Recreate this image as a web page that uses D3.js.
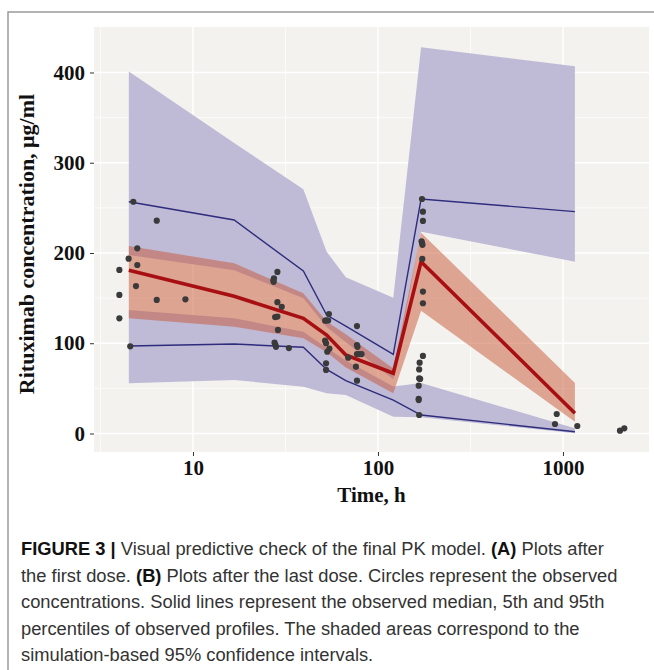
<!DOCTYPE html>
<html>
<head>
<meta charset="utf-8">
<script src="https://cdn.jsdelivr.net/npm/d3@7"></script>
<style>
  html, body { margin: 0; padding: 0; background: #ffffff; }
  svg { display: block; }
</style>
</head>
<body>
<svg id="chart" width="654" height="670"></svg>
<script>
// ---------- data ----------
const times      = [4.5, 16.7, 39.5, 52.8, 67, 121, 171, 1160];
const obsMedian  = [181, 152, 127.6, 109, 87, 66.7, 190.4, 22.4];
const obsP95     = [256.8, 236.6, 180, 131.3, 119, 87.7, 259.8, 245.8];
const obsP05     = [97, 99.2, 95.5, 71, 58.5, 37, 20.5, 2];
const medCIhi    = [207.7, 188.6, 155.3, 124, 110, 72, 222.5, 56];
const medCIlo    = [127.6, 118.3, 105.5, 90, 73, 44.5, 136, 13];
const p95CIhi    = [401, 322, 270.5, 201.5, 173, 150.5, 428, 407];
const p95CIlo    = [197.8, 181, 149.8, 118, 101, 60, 223.6, 190.4];
const p05CIhi    = [136.8, 127.6, 112.8, 95, 81, 52, 56, 5.7];
const p05CIlo    = [55.6, 59.3, 51.9, 44.5, 42.7, 18.6, 18, 0.2];

const obsTime = [4.0, 4.0, 4.0, 4.49, 4.58, 4.76, 5.0, 5.0, 4.92, 6.37, 6.37, 9.1,
  28.6, 27.4, 27.2, 27.3, 28.6, 30.2, 27.8, 28.6, 28.8, 27.6, 27.9, 28.1, 33.0,
  54.3, 51.8, 52.8, 53.8, 51.8, 52.4, 54.6, 53.2, 52.4, 52.4,
  77, 77, 77.5, 77, 79, 81.5, 69, 76, 77,
  173, 175, 175, 172, 173, 174, 173.6, 175, 175,
  175, 168, 167, 167, 169, 166, 166, 166, 167,
  905, 925, 1195, 2033, 2145];
const obsConc = [181.2, 153.5, 127.6, 193.7, 96.6, 256.8, 205.2, 186.7, 163.4, 235.8, 148, 148.7,
  179, 172, 169.6, 168, 145.5, 140.3, 129, 129.5, 114.8, 100.6, 98, 96, 94.7,
  132.4, 125, 125.5, 125.2, 102.8, 100, 94, 90.6, 77.8, 70.4,
  119, 98, 96, 88, 88, 88, 84, 74, 58.5,
  259.8, 245.8, 235.5, 213, 211, 209, 193.4, 157.2, 144.3,
  86, 78.5, 71, 61, 60.5, 53, 38.5, 37, 20.5,
  10.5, 21.6, 8.3, 3.1, 5.7];

const xTicks = [10, 100, 1000];
const xMinor = [Math.pow(10, 0.5), Math.pow(10, 1.5), Math.pow(10, 2.5)];
const yTicks = [0, 100, 200, 300, 400];
const yMinor = [50, 150, 250, 350];

const captionLines = [
  [["FIGURE 3 | ", true], ["Visual predictive check of the final PK model. ", false], ["(A)", true], [" Plots after", false]],
  [["the first dose. ", false], ["(B)", true], [" Plots after the last dose. Circles represent the observed", false]],
  [["concentrations. Solid lines represent the observed median, 5th and 95th", false]],
  [["percentiles of observed profiles. The shaded areas correspond to the", false]],
  [["simulation-based 95% confidence intervals.", false]]
];

// ---------- layout ----------
const svg = d3.select("#chart");
const P = { left: 94, right: 649, top: 27, bottom: 452 };

const x = d3.scaleLog().domain([Math.pow(10, 0.465), Math.pow(10, 3.465)]).range([P.left, P.right]);
const y = d3.scaleLinear().domain([-20.5, 450.4]).range([P.bottom, P.top]);

// figure frame
svg.append("path")
  .attr("d", "M8,670 L8,12 L654,12")
  .attr("fill", "none").attr("stroke", "#9a9a9a").attr("stroke-width", 1.5);

// panel background
svg.append("rect").attr("x", P.left).attr("y", P.top)
  .attr("width", P.right - P.left).attr("height", P.bottom - P.top)
  .attr("fill", "#f3f2ef");

const grid = svg.append("g");
grid.selectAll(".xm").data(xMinor).join("line")
  .attr("x1", d => x(d)).attr("x2", d => x(d)).attr("y1", P.top).attr("y2", P.bottom)
  .attr("stroke", "#ffffff").attr("stroke-width", 0.7);
grid.selectAll(".ym").data(yMinor).join("line")
  .attr("y1", d => y(d)).attr("y2", d => y(d)).attr("x1", P.left).attr("x2", P.right)
  .attr("stroke", "#ffffff").attr("stroke-width", 0.7);
grid.selectAll(".xM").data(xTicks).join("line")
  .attr("x1", d => x(d)).attr("x2", d => x(d)).attr("y1", P.top).attr("y2", P.bottom)
  .attr("stroke", "#ffffff").attr("stroke-width", 1.4);
grid.selectAll(".yM").data(yTicks).join("line")
  .attr("y1", d => y(d)).attr("y2", d => y(d)).attr("x1", P.left).attr("x2", P.right)
  .attr("stroke", "#ffffff").attr("stroke-width", 1.4);

// ---------- bands ----------
const idx = d3.range(times.length);
const band = (lo, hi) => d3.area()
  .x(i => x(times[i])).y0(i => y(lo[i])).y1(i => y(hi[i]));

svg.append("path").datum(idx).attr("d", band(p95CIlo, p95CIhi)).attr("fill", "#bfbbd6");
svg.append("path").datum(idx).attr("d", band(p05CIlo, p05CIhi)).attr("fill", "#bfbbd6");
svg.append("path").datum(idx).attr("d", band(medCIlo, medCIhi))
  .attr("fill", "rgb(200,86,52)").attr("fill-opacity", 0.5);

// ---------- lines ----------
const line = arr => d3.line().x(i => x(times[i])).y(i => y(arr[i]));
svg.append("path").datum(idx).attr("d", line(obsP95))
  .attr("fill", "none").attr("stroke", "#2e2c7c").attr("stroke-width", 1.4);
svg.append("path").datum(idx).attr("d", line(obsP05))
  .attr("fill", "none").attr("stroke", "#2e2c7c").attr("stroke-width", 1.4);
svg.append("path").datum(idx).attr("d", line(obsMedian))
  .attr("fill", "none").attr("stroke", "#a80f12").attr("stroke-width", 3.6)
  .attr("stroke-linejoin", "miter");

// ---------- points ----------
svg.append("g").selectAll("circle").data(d3.range(obsTime.length)).join("circle")
  .attr("cx", i => x(obsTime[i])).attr("cy", i => y(obsConc[i]))
  .attr("r", 3.1).attr("fill", "#3a3a3a");

// ---------- axes ----------
const xAxis = d3.axisBottom(x).tickValues(xTicks).tickFormat(d3.format("d"))
  .tickSize(4).tickPadding(4);
const gx = svg.append("g").attr("transform", `translate(0,${P.bottom})`).call(xAxis);
gx.select(".domain").remove();
gx.selectAll("line").attr("stroke", "#333");
gx.selectAll("text").attr("font-family", "'Liberation Serif', 'Times New Roman', serif")
  .attr("font-weight", "bold").attr("font-size", 21).attr("fill", "#111");

const yAxis = d3.axisLeft(y).tickValues(yTicks).tickFormat(d3.format("d"))
  .tickSize(4).tickPadding(5);
const gy = svg.append("g").attr("transform", `translate(${P.left},0)`).call(yAxis);
gy.select(".domain").remove();
gy.selectAll("line").attr("stroke", "#333");
gy.selectAll("text").attr("font-family", "'Liberation Serif', 'Times New Roman', serif")
  .attr("font-weight", "bold").attr("font-size", 21).attr("fill", "#111");

svg.append("text").attr("x", (P.left + P.right) / 2).attr("y", 502)
  .attr("text-anchor", "middle")
  .attr("font-family", "'Liberation Serif', 'Times New Roman', serif")
  .attr("font-weight", "bold").attr("font-size", 21).attr("fill", "#111")
  .text("Time, h");

svg.append("text").attr("transform", "translate(34,244) rotate(-90)")
  .attr("text-anchor", "middle")
  .attr("font-family", "'Liberation Serif', 'Times New Roman', serif")
  .attr("font-weight", "bold").attr("font-size", 22).attr("fill", "#111")
  .text("Rituximab concentration, μg/ml");

// ---------- caption ----------
const cap = svg.append("g");
const capTexts = captionLines.map((parts, li) => {
  const t = cap.append("text").attr("x", 21).attr("y", 555 + li * 26.5)
    .attr("font-family", "'Liberation Sans', Arial, sans-serif")
    .attr("font-size", 16).attr("fill", "#222");
  parts.forEach(([s, b]) => {
    t.append("tspan").attr("font-weight", b ? "bold" : "normal")
      .attr("fill", b ? "#111" : "#333").text(s);
  });
  return t;
});
// fit font size so that line 2 spans to x≈618
const w2 = capTexts[1].node().getComputedTextLength();
const fs = 16 * (597 / w2);
capTexts.forEach(t => t.attr("font-size", fs));
</script>
</body>
</html>
